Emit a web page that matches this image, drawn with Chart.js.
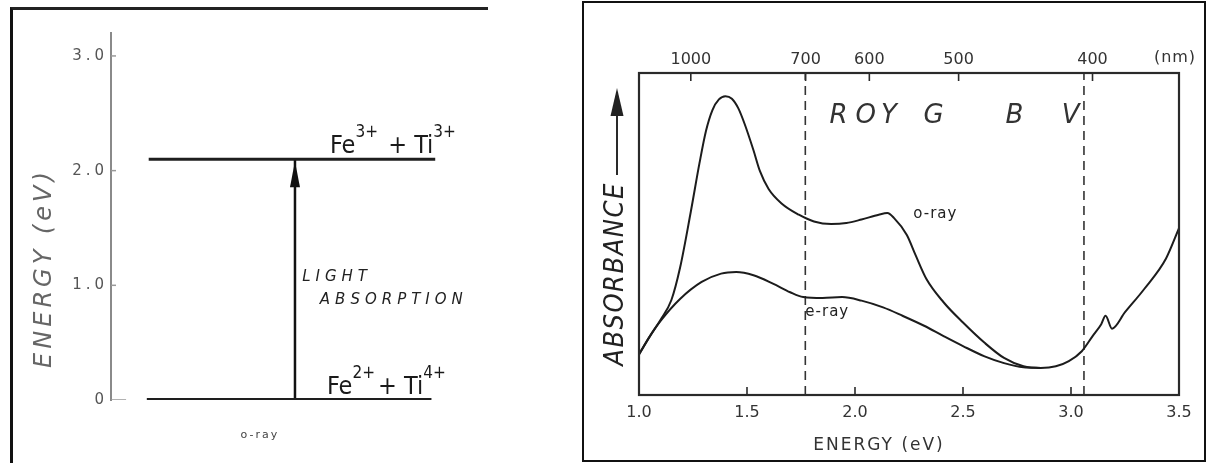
<!DOCTYPE html>
<html>
<head>
<meta charset="utf-8">
<script src="https://cdn.jsdelivr.net/npm/chart.js@4.4.1/dist/chart.umd.min.js"></script>
<style>
  body { margin: 0; background: #fff; width: 1210px; height: 463px; position: relative; overflow: hidden; }
  #levelBox { position: absolute; left: 10px; top: 7px; width: 475px; height: 453px; border-left: 3px solid #111; border-top: 3px solid #222; }
  #specBox { position: absolute; left: 582px; top: 1px; width: 620px; height: 457px; border: 2px solid #111; }
  canvas { display: block; }
</style>
</head>
<body>
<div id="levelBox"><canvas id="levels" width="475" height="453"></canvas></div>
<div id="specBox"><canvas id="spectrum" width="620" height="457"></canvas></div>
<script>
// ---- energy level scheme (eV) ----
const energyTicks = [0, 1.0, 2.0, 3.0];
const groundLevel = 0;
const excitedLevel = 2.1;
const excitedSpan = [10, 86];   // horizontal extent of the level bars, diagram units 0..100
const groundSpan = [9.5, 85];
const arrowX = 48.8;
const upperIons = ['Fe', '3+', ' + Ti', '3+'];
const lowerIons = ['Fe', '2+', '+ Ti', '4+'];

// ---- absorption spectrum ----
const HC = 1239.84; // eV*nm
const topNm = [1000, 700, 600, 500, 400];
const dashEnergies = [1.77, 3.06];
const bandLetters = ['R', 'OY', 'G', 'B', 'V'];
const bandEnergies = [1.935, 2.11, 2.375, 2.75, 3.01];

const oRayEnergy = [1.00, 1.05, 1.10, 1.15, 1.19, 1.24, 1.28, 1.31, 1.34, 1.37, 1.40, 1.43, 1.46, 1.49,
  1.53, 1.56, 1.60, 1.66, 1.74, 1.81, 1.89, 1.96, 2.03, 2.11, 2.15, 2.18, 2.24, 2.28, 2.33, 2.41,
  2.50, 2.60, 2.69, 2.78, 2.86, 2.93, 2.99, 3.05, 3.10, 3.14, 3.16, 3.19, 3.25, 3.34, 3.44, 3.50];
const oRayAbs = [12.6, 18.2, 23.4, 29.5, 39.5, 57, 72, 82, 88.5, 91.8, 92.8, 92, 89, 84,
  76, 69.5, 64, 59.5, 56.0, 53.9, 53.1, 53.4, 54.5, 56.0, 56.5, 55.0, 49.7, 43.5, 36.1, 28.8,
  22.5, 16.2, 11.5, 8.9, 8.4, 8.9, 10.5, 13.6, 18.3, 22.0, 24.6, 20.6, 25.7, 33.0, 42.4, 51.8];
const eRayEnergy = [1.00, 1.05, 1.10, 1.19, 1.29, 1.38, 1.45, 1.53, 1.62, 1.70, 1.76, 1.85, 1.94, 2.03,
  2.13, 2.22, 2.32, 2.41, 2.50, 2.60, 2.69, 2.78, 2.86];
const eRayAbs = [12.6, 18.2, 23, 29.8, 35.1, 37.7, 38.2, 37.2, 34.6, 31.9, 30.4, 30.1, 30.4, 29.3,
  27.2, 24.6, 21.5, 18.3, 15.2, 12.0, 9.9, 8.6, 8.4];

const FONT = '"DejaVu Sans", sans-serif';
const NARROW = '"DejaVu Sans Condensed", "DejaVu Sans", sans-serif';

function drawText(ctx, str, x, y, o) {
  ctx.save();
  ctx.font = o.font;
  ctx.fillStyle = o.color || '#222';
  ctx.textAlign = o.align || 'left';
  ctx.textBaseline = o.baseline || 'middle';
  ctx.letterSpacing = o.spacing || '0px';
  if (o.rotate) {
    ctx.translate(x, y);
    ctx.rotate(o.rotate);
    ctx.fillText(str, 0, 0);
  } else {
    ctx.fillText(str, x, y);
  }
  ctx.restore();
}

// ion pair with superscript charges: parts alternate text / charge
function drawIons(ctx, x, y, parts) {
  ctx.save();
  ctx.fillStyle = '#1a1a1a';
  ctx.textBaseline = 'alphabetic';
  parts.forEach((p, i) => {
    const sup = i % 2 === 1;
    ctx.font = (sup ? '17px ' : '25px ') + NARROW;
    ctx.fillText(p, x, sup ? y - 16 : y);
    x += ctx.measureText(p).width + (sup ? 3 : 0);
  });
  ctx.restore();
}

const line = (pts, color, width, extra) => Object.assign({
  data: pts, borderColor: color, borderWidth: width, pointRadius: 0, fill: false
}, extra || {});

// ---------- left: level diagram ----------
const levelDecor = {
  id: 'levelDecor',
  beforeDraw(chart) { chart.ctx.letterSpacing = '4px'; },
  beforeDatasetsDraw(chart) {
    const { ctx, scales: { y } } = chart;
    ctx.letterSpacing = '0px';
    ctx.save();
    ctx.strokeStyle = '#999';
    ctx.lineWidth = 1.5;
    y.ticks.forEach(t => {
      const py = y.getPixelForValue(t.value);
      if (t.value === 0) return;
      ctx.beginPath();
      ctx.moveTo(y.right, py);
      ctx.lineTo(y.right + 5, py);
      ctx.stroke();
    });
    ctx.restore();
  },
  afterDatasetsDraw(chart) {
    const { ctx, scales: { x, y } } = chart;
    // arrow head at the top of the transition line
    const tip = chart.getDatasetMeta(2).data[1];
    ctx.save();
    ctx.fillStyle = '#111';
    ctx.beginPath();
    ctx.moveTo(tip.x, tip.y + 2);
    ctx.lineTo(tip.x - 5, tip.y + 28);
    ctx.lineTo(tip.x + 5, tip.y + 28);
    ctx.closePath();
    ctx.fill();
    ctx.restore();

    drawIons(ctx, x.getPixelForValue(58.1), y.getPixelForValue(2.15), upperIons);
    drawIons(ctx, x.getPixelForValue(57.3), y.getPixelForValue(0.05), lowerIons);
    drawText(ctx, 'LIGHT', x.getPixelForValue(50.7), y.getPixelForValue(1.07),
      { font: 'italic 15px ' + FONT, spacing: '5px', color: '#222' });
    drawText(ctx, 'ABSORPTION', x.getPixelForValue(55.4), y.getPixelForValue(0.87),
      { font: 'italic 15px ' + FONT, spacing: '5px', color: '#222' });
    drawText(ctx, 'o-ray', x.getPixelForValue(39.5), y.getPixelForValue(-0.31),
      { font: '11px ' + FONT, spacing: '2px', color: '#444', align: 'center' });
    drawText(ctx, 'ENERGY (eV)', 32, 258,
      { font: 'italic 24px ' + FONT, spacing: '4px', color: '#666', align: 'center', rotate: -Math.PI / 2 });
  }
};

new Chart(document.getElementById('levels'), {
  type: 'line',
  data: {
    datasets: [
      line([{ x: excitedSpan[0], y: excitedLevel }, { x: excitedSpan[1], y: excitedLevel }], '#1e1e1e', 3),
      line([{ x: groundSpan[0], y: groundLevel }, { x: groundSpan[1], y: groundLevel }], '#1e1e1e', 4),
      line([{ x: arrowX, y: groundLevel }, { x: arrowX, y: excitedLevel }], '#111', 2.5),
      line([{ x: 0, y: groundLevel }, { x: 4, y: groundLevel }], '#999', 1.5)
    ]
  },
  options: {
    responsive: false,
    animation: false,
    layout: { padding: { left: 0, right: 0, top: 23, bottom: 63 } },
    plugins: { legend: { display: false }, tooltip: { enabled: false } },
    scales: {
      x: { type: 'linear', min: 0, max: 100, display: false },
      y: {
        type: 'linear', min: 0, max: 3.2,
        afterFit: s => { s.width = 98; },
        afterBuildTicks: s => { s.ticks = energyTicks.map(v => ({ value: v })); },
        ticks: {
          callback: v => v === 0 ? '0' : v.toFixed(1),
          color: '#555', padding: 3,
          font: { size: 15, family: 'DejaVu Sans' }
        },
        grid: { display: false, drawTicks: false },
        border: { color: '#8a8a8a', width: 2 }
      }
    }
  },
  plugins: [levelDecor]
});

// ---------- right: absorption spectrum ----------
const specDecor = {
  id: 'specDecor',
  afterDraw(chart) {
    const { ctx, chartArea: ca, scales: { x, x2, y } } = chart;
    ctx.save();
    ctx.strokeStyle = '#2a2a2a';
    ctx.lineWidth = 2.2;
    ctx.strokeRect(ca.left, ca.top, ca.right - ca.left, ca.bottom - ca.top);
    ctx.lineWidth = 1.6;
    // inward tick marks
    x.ticks.forEach(t => {
      if (t.value <= x.min || t.value >= x.max) return;
      const px = x.getPixelForValue(t.value);
      ctx.beginPath(); ctx.moveTo(px, ca.bottom); ctx.lineTo(px, ca.bottom - 8); ctx.stroke();
    });
    x2.ticks.forEach(t => {
      const px = x2.getPixelForValue(t.value);
      ctx.beginPath(); ctx.moveTo(px, ca.top); ctx.lineTo(px, ca.top + 8); ctx.stroke();
    });
    // absorbance arrow
    ctx.fillStyle = '#222';
    ctx.lineWidth = 2;
    ctx.beginPath(); ctx.moveTo(33, 172); ctx.lineTo(33, 108); ctx.stroke();
    ctx.beginPath();
    ctx.moveTo(33, 85); ctx.lineTo(26.5, 113); ctx.lineTo(39.5, 113); ctx.closePath();
    ctx.fill();
    ctx.restore();

    drawText(ctx, '(nm)', ca.right - 4, ca.top - 15, { font: '16px ' + FONT, color: '#333', align: 'center', spacing: '1px' });
    drawText(ctx, 'ABSORBANCE', 32, 271,
      { font: 'italic 27px ' + NARROW, spacing: '1.5px', color: '#222', align: 'center', rotate: -Math.PI / 2 });
    drawText(ctx, 'ENERGY (eV)', 295, 443, { font: '17px ' + FONT, spacing: '2px', color: '#333', align: 'center' });
    bandLetters.forEach((s, i) => {
      drawText(ctx, s, x.getPixelForValue(bandEnergies[i]), y.getPixelForValue(86.7),
        { font: 'italic 200 26px ' + FONT, spacing: '5px', color: '#333', align: 'center' });
    });
    drawText(ctx, 'o-ray', x.getPixelForValue(2.27), y.getPixelForValue(56.3),
      { font: '15px ' + FONT, spacing: '1px', color: '#222' });
    drawText(ctx, 'e-ray', x.getPixelForValue(1.77), y.getPixelForValue(25.7),
      { font: '15px ' + FONT, spacing: '1px', color: '#222' });
  }
};

const tickFont = { size: 16, family: 'DejaVu Sans' };

new Chart(document.getElementById('spectrum'), {
  type: 'line',
  data: {
    datasets: [
      line(oRayEnergy.map((e, i) => ({ x: e, y: oRayAbs[i] })), '#1c1c1c', 2, { cubicInterpolationMode: 'monotone' }),
      line(eRayEnergy.map((e, i) => ({ x: e, y: eRayAbs[i] })), '#1c1c1c', 2, { cubicInterpolationMode: 'monotone' }),
      ...dashEnergies.map(e => line([{ x: e, y: 0 }, { x: e, y: 100 }], '#333', 1.6, { borderDash: [9, 6] }))
    ]
  },
  options: {
    responsive: false,
    animation: false,
    layout: { padding: { left: 55, right: 25, top: 0, bottom: 0 } },
    plugins: { legend: { display: false }, tooltip: { enabled: false } },
    scales: {
      x: {
        type: 'linear', position: 'bottom', min: 1, max: 3.5,
        afterFit: s => { s.height = 65; },
        ticks: { stepSize: 0.5, callback: v => v.toFixed(1), padding: 8, color: '#333', font: tickFont, maxRotation: 0, autoSkip: false },
        grid: { display: false, drawTicks: false },
        border: { display: false }
      },
      x2: {
        type: 'linear', position: 'top', min: 1, max: 3.5,
        afterFit: s => { s.height = 70; },
        afterBuildTicks: s => { s.ticks = topNm.map(nm => ({ value: HC / nm })); },
        ticks: { callback: v => Math.round(HC / v), padding: 4, color: '#333', font: tickFont, maxRotation: 0, autoSkip: false },
        grid: { display: false, drawTicks: false },
        border: { display: false }
      },
      y: { type: 'linear', min: 0, max: 100, display: false }
    }
  },
  plugins: [specDecor]
});
</script>
</body>
</html>
